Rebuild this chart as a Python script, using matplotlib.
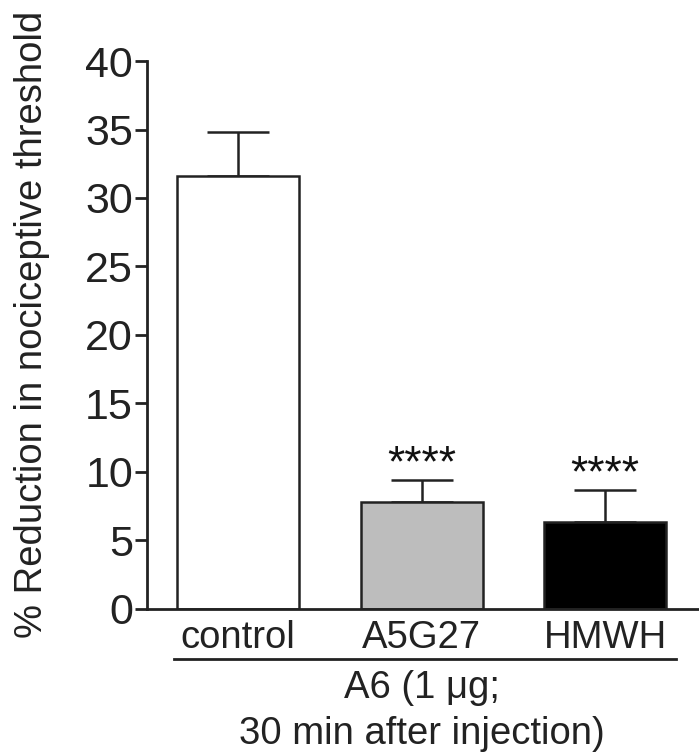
import matplotlib
matplotlib.use("Agg")
import matplotlib.pyplot as plt

plt.rcParams['font.family'] = ['Liberation Sans', 'DejaVu Sans']

# data
groups = ['control', 'A5G27', 'HMWH']
means = [31.6, 7.8, 6.35]
sem = [3.2, 1.6, 2.35]
bar_colors = ['white', '#bdbdbd', 'black']
stars = ['', '****', '****']
yticks = [0, 5, 10, 15, 20, 25, 30, 35, 40]

fig = plt.figure(figsize=(6.99, 7.55), dpi=100)
ax = fig.add_axes([0.2103, 0.1934, 0.79, 0.7258])

x = list(range(len(groups)))
ax.bar(x, means, width=0.665, color=bar_colors, edgecolor='#222222',
       linewidth=1.8, zorder=2)
ax.errorbar(x, means, yerr=[[0] * len(sem), sem], fmt='none',
            ecolor='#222222', elinewidth=1.8, capsize=22, capthick=1.8, zorder=1)

for xi, m, s, st in zip(x, means, sem, stars):
    if st:
        ax.text(xi, m + s - 0.4, st, ha='center', va='bottom', fontsize=32,
                color='#111111')

ax.set_xlim(-0.496, 2.512)
ax.set_ylim(0, 40)
ax.set_yticks(yticks)
ax.set_xticks(x)
ax.set_xticklabels(groups)

for side in ['top', 'right']:
    ax.spines[side].set_visible(False)
for side in ['left', 'bottom']:
    ax.spines[side].set_linewidth(2)
    ax.spines[side].set_color('#222222')

ax.tick_params(axis='y', direction='out', length=9, width=2, labelsize=31,
               pad=1, color='#222222', labelcolor='#222222')
ax.tick_params(axis='x', length=0, labelsize=27.5, pad=8, labelcolor='#222222')

ax.set_ylabel('% Reduction in nociceptive threshold', fontsize=27.5,
              color='#222222')
ax.yaxis.set_label_coords(-0.176, 0.52)

# group bracket below the labels
trans = ax.get_xaxis_transform()
ax.plot([-0.349, 2.387], [-0.0912, -0.0912], color='#222222', lw=2,
        transform=trans, clip_on=False)
ax.text(1.0, -0.145, 'A6 (1 \u03bcg;', ha='center', va='center', fontsize=27.5,
        color='#222222', transform=trans)
ax.text(1.0, -0.228, '30 min after injection)', ha='center', va='center',
        fontsize=27.5, color='#222222', transform=trans)

fig.savefig('out.png', dpi=100)
